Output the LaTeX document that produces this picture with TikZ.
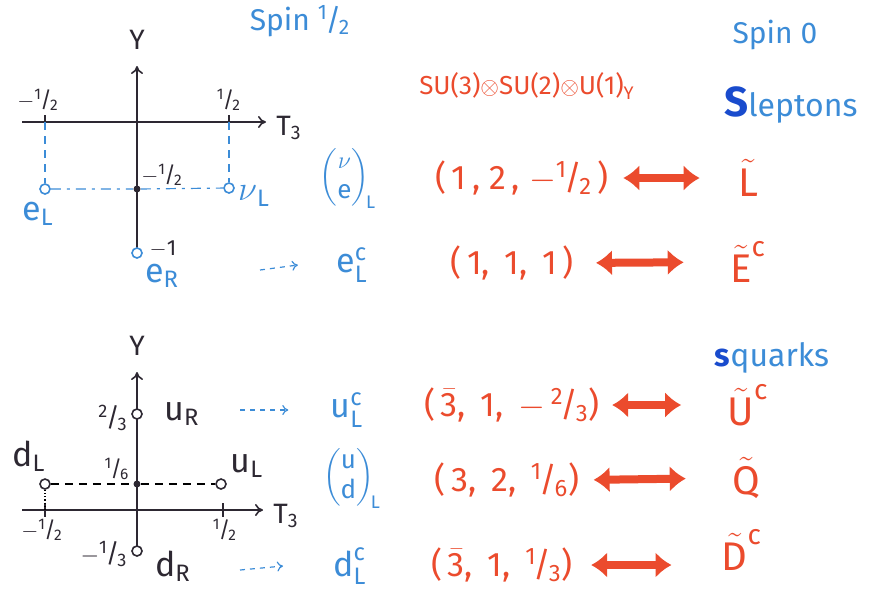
\documentclass[tikz,border=0pt]{standalone}
\usepackage{amsmath}
\usepackage{fontspec}
\setmainfont{Fira Sans}
\usetikzlibrary{positioning,arrows.meta}
\definecolor{spinblue}{RGB}{60,140,215}
\definecolor{sblue}{RGB}{25,75,205}
\definecolor{repred}{RGB}{235,75,45}
\definecolor{axisgray}{RGB}{45,40,50}
\newcommand{\hfr}[2]{\textsuperscript{#1}\kern-0.08em/\kern-0.08em\textsubscript{#2}}
\newcommand{\fsub}[3]{$\text{#1}^{\text{#2}}_{\text{#3}}$}
\tikzset{
  ax/.style={-{To[length=4pt,width=6pt]}, line width=0.8pt, axisgray},
  tick/.style={line width=0.8pt, axisgray},
  wpt/.style={circle, draw=#1, fill=white, line width=0.8pt, inner sep=0pt,
              minimum size=5pt},
  wpt/.default=axisgray,
  dotpt/.style={circle, fill=axisgray, inner sep=0pt, minimum size=3.5pt},
  proj/.style={dash pattern=on 4pt off 3pt, line width=0.6pt},
  axlbl/.style={font=\fontsize{14}{16}\selectfont, text=axisgray, inner sep=1pt},
  num/.style={font=\fontsize{11}{13}\selectfont, text=axisgray, inner sep=1pt},
  blu/.style={font=\fontsize{15}{17}\selectfont, text=spinblue, inner sep=1pt},
  fld/.style={font=\fontsize{17}{19}\selectfont, text=spinblue, inner sep=1pt},
  tup/.style={font=\fontsize{17}{19}\selectfont, text=repred, inner sep=1pt},
  sfld/.style={font=\fontsize{20}{22}\selectfont, text=repred, inner sep=1pt},
  dbl/.style={{Latex[length=8pt,width=13pt]}-{Latex[length=8pt,width=13pt]},
              line width=4pt, repred},
  hint/.style={-{To[length=3pt,width=5pt]}, dash pattern=on 2.5pt off 2.5pt,
               line width=0.6pt, spinblue}
}
\begin{document}
\begin{tikzpicture}[x=0.5pt,y=-0.5pt]
\useasboundingbox (0,0) rectangle (870,595);

% --- leptons: Y vs T3
\coordinate (lx0) at (22,122);  \coordinate (lx1) at (266,122);
\coordinate (ly0) at (137,255); \coordinate (ly1) at (137,66);
\coordinate (lt0) at (45,122);  \coordinate (lt1) at (229,122);
\draw[ax] (lx0) -- (lx1);
\draw[ax] (ly0) -- (ly1);
\draw[tick] (45,115) -- (45,129) (229,115) -- (229,129);
\node[axlbl, above=7pt of ly1] (lY) {Y};
\node[axlbl, right=4pt of lx1, yshift=-3pt] (lT) {T\textsubscript{3}};
\node[num] (lmh) at (38,100) {$-$\hfr12};
\node[num] (lph) at (229,100) {\hfr12};

\node[wpt=spinblue] (eL) at (45,189) {};
\node[wpt=spinblue] (nuL) at (229,188) {};
\node[wpt=spinblue] (eR) at (137,253) {};
\node[dotpt] (lm) at (137,189) {};
\draw[proj, spinblue] (lt0) -- (eL);
\draw[proj, spinblue] (lt1) -- (nuL);
\draw[proj, spinblue, dash pattern=on 5pt off 3pt on 1.5pt off 3pt] (eL) -- (lm) -- (nuL);
\node[num] (lmv) at (162,175) {$-$\hfr12};
\node[num] (lmo) at (163,249) {$-$1};
\node[blu, font=\fontsize{17}{19}\selectfont] (eLl) at (38,214) {e\textsubscript{L}};
\node[blu, font=\fontsize{17}{19}\selectfont] (nuLl) at (254,196) {$\nu$\textsubscript{L}};
\node[blu, font=\fontsize{17}{19}\selectfont] (eRl) at (162,276) {e\textsubscript{R}};

% --- quarks: Y vs T3
\coordinate (qx0) at (22,510);  \coordinate (qx1) at (263,510);
\coordinate (qy0) at (137,548); \coordinate (qy1) at (137,372);
\coordinate (qt0) at (45,510);  \coordinate (qt1) at (223,510);
\draw[ax] (qx0) -- (qx1);
\draw[ax] (qy0) -- (qy1);
\draw[tick] (45,503) -- (45,517) (223,503) -- (223,517);
\node[axlbl, above=7pt of qy1] (qY) {Y};
\node[axlbl, right=4pt of qx1, yshift=-3pt] (qT) {T\textsubscript{3}};
\node[num] (qmh) at (42,530) {$-$\hfr12};
\node[num] (qph) at (225,530) {\hfr12};

\node[wpt] (uR) at (137,414) {};
\node[wpt] (dR) at (137,551) {};
\node[wpt] (dL) at (45,484) {};
\node[wpt] (uL) at (221,484) {};
\node[dotpt] (qm) at (137,484) {};
\draw[proj] (dL) -- (qm) -- (uL);
\draw[proj, densely dotted] (dL) -- (qt0);
\node[num, font=\fontsize{13}{15}\selectfont] (qtt) at (113,418) {\hfr23};
\node[num] (qsx) at (117,469) {\hfr16};
\node[num, font=\fontsize{13}{15}\selectfont] (qmt) at (104,554) {$-$\hfr13};
\node[axlbl, font=\fontsize{17}{19}\selectfont] (uRl) at (182,414) {u\textsubscript{R}};
\node[axlbl, font=\fontsize{17}{19}\selectfont] (dRl) at (173,566) {d\textsubscript{R}};
\node[axlbl, font=\fontsize{17}{19}\selectfont] (dLl) at (29,456) {d\textsubscript{L}};
\node[axlbl, font=\fontsize{17}{19}\selectfont] (uLl) at (247,466) {u\textsubscript{L}};

% --- headings
\node[blu] (s12) at (300,21) {Spin \hfr12};
\node[blu] (s0) at (775,35) {Spin 0};
\node[tup, font=\fontsize{13}{15}\selectfont] (grp) at (527,86)
  {SU(3)$\otimes$SU(2)$\otimes$U(1)\textsubscript{Y}};
\node[blu, font=\fontsize{16}{18}\selectfont] (slep) at (791,105)
  {{\color{sblue}\bfseries\fontsize{21}{22}\selectfont S}leptons};
\node[blu, font=\fontsize{16}{18}\selectfont] (squa) at (772,358)
  {{\color{sblue}\bfseries s}quarks};

% --- multiplets
\node[fld, font=\fontsize{13}{15}\selectfont] (f1) at (348,178)
  {$\begin{pmatrix}\nu\\ \text{e}\end{pmatrix}_{\!\text{L}}$};
\node[tup] (r1) at (522,178) {(\,1\,, 2\,, $-$\hfr12\,)};
\node[sfld] (s1) at (748,178) {$\tilde{\text{L}}$};
\node[fld] (f2) at (352,265) {\fsub{e}{c}{L}};
\node[tup] (r2) at (512,263) {(\,1,\, 1,\, 1\,)};
\node[sfld] (s2) at (748,262) {$\tilde{\text{E}}^{\text{c}}$};

\node[fld] (f3) at (347,410) {\fsub{u}{c}{L}};
\node[tup] (r3) at (512,405) {(\,$\bar{\text{3}}$,\, 1,\, $-$\,\hfr23)};
\node[sfld] (s3) at (748,405) {$\tilde{\text{U}}^{\text{c}}$};
\node[fld, font=\fontsize{13}{15}\selectfont] (f4) at (352,478)
  {$\begin{pmatrix}\text{u}\\ \text{d}\end{pmatrix}_{\!\text{L}}$};
\node[tup] (r4) at (507,480) {(\,3,\, 2,\, \hfr16)};
\node[sfld] (s4) at (746,478) {$\tilde{\text{Q}}$};
\node[fld] (f5) at (350,566) {\fsub{d}{c}{L}};
\node[tup] (r5) at (502,565) {(\,$\bar{\text{3}}$,\, 1,\, \hfr13)};
\node[sfld] (s5) at (742,550) {$\tilde{\text{D}}^{\text{c}}$};

% --- superpartners
\draw[dbl, shorten <=6pt, shorten >=18pt] (r1.east) -- (s1.west);
\draw[dbl, shorten <=10pt, shorten >=22pt] (r2.east) -- (s2.west);
\draw[dbl, shorten <=5pt, shorten >=22pt] (r3.east) -- (s3.west);
\draw[dbl, shorten <=6pt, shorten >=22pt] (r4.east) -- (s4.west);
\draw[dbl, shorten <=8pt, shorten >=24pt] (r5.east) -- (s5.west |- r5.east);

% --- conjugate fields
\coordinate (h2) at (260,270);
\coordinate (h3) at (240,410);
\coordinate (h5) at (240,570);
\draw[hint] (h2) -- ([xshift=-18pt]f2.west);
\draw[hint] (h3) -- ([xshift=-20pt]f3.west);
\draw[hint] (h5) -- ([xshift=-24pt]f5.west);
\end{tikzpicture}
\end{document}
